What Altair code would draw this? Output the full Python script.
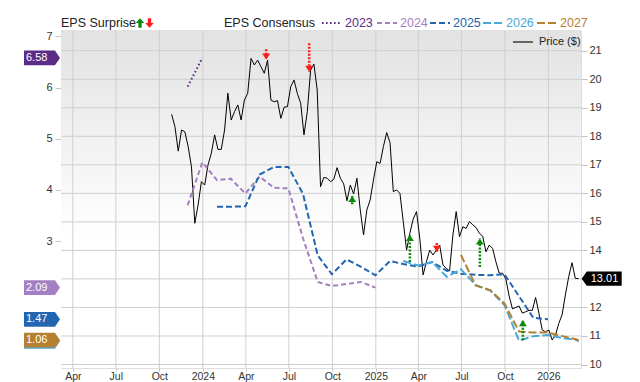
import altair as alt
import pandas as pd

# ---------------- data ----------------
# weekly closing price ($)
price_start = "2023-10-27"
price_values = [18.77, 18.34, 17.48, 18.22, 18.16, 17.64, 16.93, 14.95, 15.59, 16.41,
                16.29, 17.0, 17.4, 18.05, 17.54, 17.54, 18.22, 19.51, 18.57, 18.86,
                19.1, 18.57, 19.27, 19.51, 20.73, 20.5, 20.67, 20.44, 20.21, 20.67,
                19.27, 19.21, 19.25, 18.63, 19.02, 19.04, 19.74, 19.97, 19.5, 19.16,
                18.05, 18.86, 20.32, 20.53, 19.62, 16.23, 16.56, 16.53, 16.41, 16.49,
                16.9, 16.53, 16.33, 15.74, 16.29, 15.98, 16.53, 15.42, 14.54, 15.42,
                15.77, 16.47, 17.11, 17.05, 17.64, 18.13, 17.78, 16.06, 16.12, 16.0,
                15.01, 14.01, 14.6, 15.1, 15.36, 14.42, 13.14, 13.6, 14.01, 13.84,
                14.01, 14.19, 13.49, 13.37, 13.28, 14.54, 15.36, 14.48, 14.83, 14.77,
                15.01, 14.9, 14.8, 14.6, 14.5, 13.95, 14.19, 14.07, 13.6, 13.2,
                13.2, 13.0, 12.4, 11.95, 12.0, 12.05, 11.8, 11.85, 11.9, 11.9,
                12.35, 11.8, 11.21, 11.15, 11.21, 10.86, 11.03, 11.44, 11.74, 12.44,
                13.08, 13.57, 13.02, 13.01]
price_last_label = "13.01"

last_date = "2026-03-06"
# EPS consensus by fiscal year (month-end values)
years = ["2023", "2024", "2025", "2026", "2027"]
eps_2023_first, eps_2023_lastmonth = "2023-11-30", "2023-12-31"
eps_2023 = [6.02, 6.58]
eps_2024_first, eps_2024_lastmonth = "2023-11-30", "2024-12-31"
eps_2024 = [3.70, 4.54, 4.19, 4.22, 3.93, 4.26, 4.04, 4.03, 3.05, 2.20, 2.12, 2.16, 2.20, 2.09]
eps_2025_first, eps_2025_lastmonth = "2024-01-31", "2025-12-31"
eps_2025 = [3.67, 3.67, 3.68, 4.30, 4.45, 4.45, 3.92, 2.72, 2.35, 2.64, 2.50, 2.33,
            2.61, 2.55, 2.50, 2.59, 2.42, 2.36, 2.34, 2.33, 2.35, 1.92, 1.50, 1.47]
eps_2026_first, eps_2026_lastmonth = "2025-02-28", "2026-02-28"
eps_2026 = [2.61, 2.52, 2.59, 2.30, 2.45, 2.14, 2.03, 1.75, 1.05, 1.14, 1.16, 1.10, 1.07]
eps_2026_final = 1.04
eps_2027_first, eps_2027_lastmonth = "2025-06-30", "2026-02-28"
eps_2027 = [2.73, 2.13, 2.04, 1.78, 1.23, 1.21, 1.21, 1.14, 1.08]
eps_2027_final = 1.06

# EPS surprises (from consensus to actual)
surprise_dates = ["2024-05-14", "2024-08-13", "2024-11-12", "2025-03-14",
                  "2025-05-10", "2025-08-09", "2025-11-08"]
surprise_from = [6.75, 6.87, 3.72, 2.59, 2.96, 2.49, 1.06]
surprise_to = [6.55, 6.31, 3.88, 3.12, 2.79, 3.05, 1.45]

# last-value badges (the 2026 badge sits just under the 2027 one)
badge_values = [6.58, 2.09, 1.47, 1.04, 1.06]
badge_labels = ["6.58", "2.09", "1.47", "", "1.06"]
badge_series = ["2023", "2024", "2025", "2026", "2027"]

price_ticks = list(range(10, 22))
eps_ticks = [3, 4, 5, 6, 7]
tick_months = [(2023, 4), (2023, 7), (2023, 10), (2024, 1), (2024, 4), (2024, 7),
               (2024, 10), (2025, 1), (2025, 4), (2025, 7), (2025, 10), (2026, 1)]

# ---------------- styling ----------------
colors = ["#5b2c86", "#a47fc2", "#2265b0", "#4aa8da", "#b58030"]
dashes = [[1.6, 2.4], [5, 3], [6, 3], [8, 3], [8, 3]]
GREEN, RED = "#0b8a0b", "#ff1a1a"
W, H = 520, 338
L_DOM = [0.517, 7.127]
R_DOM = [9.878, 21.726]
FONT = "Liberation Sans"

# ---------------- tables ----------------
price_df = pd.DataFrame({"date": pd.date_range(price_start, periods=len(price_values), freq="7D"),
                         "price": price_values})


def month_ends(a, b):
    return list(pd.date_range(a, b, freq=pd.offsets.MonthEnd()))


rows = []
series_specs = [
    ("2023", month_ends(eps_2023_first, eps_2023_lastmonth), eps_2023),
    ("2024", month_ends(eps_2024_first, eps_2024_lastmonth), eps_2024),
    ("2025", month_ends(eps_2025_first, eps_2025_lastmonth), eps_2025),
    ("2026", month_ends(eps_2026_first, eps_2026_lastmonth) + [pd.Timestamp(last_date)],
     eps_2026 + [eps_2026_final]),
    ("2027", month_ends(eps_2027_first, eps_2027_lastmonth) + [pd.Timestamp(last_date)],
     eps_2027 + [eps_2027_final]),
]
for name, ds, vs in series_specs:
    assert len(ds) == len(vs), name
    for d, v in zip(ds, vs):
        rows.append({"date": d, "eps": v, "series": name})
eps_df = pd.DataFrame(rows)

sur_df = pd.DataFrame({"date": pd.to_datetime(surprise_dates), "frm": surprise_from,
                       "to": surprise_to})
sur_df["dir"] = ["up" if t > f else "down" for f, t in zip(surprise_from, surprise_to)]
sur_df["col"] = [GREEN if d == "up" else RED for d in sur_df["dir"]]

badge_df = pd.DataFrame({"value": badge_values, "label": badge_labels,
                         "color": [colors[years.index(s)] for s in badge_series]})
last_df = pd.DataFrame({"price": [price_values[-1]], "label": [price_last_label]})
grid_df = pd.DataFrame({"v": price_ticks})
vgrid_df = pd.DataFrame({"d": [pd.Timestamp(year=y, month=m, day=1) for y, m in tick_months]})
one = pd.DataFrame({"k": [0]})

# ---------------- encodings ----------------
x_axis = alt.Axis(values=[alt.DateTime(year=y, month=m, date=1) for y, m in tick_months],
                  labelExpr="month(datum.value) == 0 ? timeFormat(datum.value, '%Y') : timeFormat(datum.value, '%b')",
                  title=None, grid=False, domain=False, ticks=True, tickColor="#c4c4c4",
                  tickSize=3, labelColor="#333333", labelFontSize=10.5, labelPadding=0,
                  labelBaseline="top")
x_scale = alt.Scale(domain=[alt.DateTime(year=2023, month=3, date=7),
                            alt.DateTime(year=2026, month=3, date=11)])


def X(field):
    return alt.X(f"{field}:T", scale=x_scale, axis=x_axis)


left_axis = alt.Axis(orient="left", values=eps_ticks, grid=False, domain=False,
                     tickColor="#c4c4c4", tickSize=6, labelColor="#333333",
                     labelFontSize=11, labelPadding=3, title=None)
right_axis = alt.Axis(orient="right", values=price_ticks, grid=False, domain=False,
                      tickColor="#c4c4c4", tickSize=6, labelColor="#333333",
                      labelFontSize=11, labelPadding=2, title=None,
                      labelExpr="datum.value == 13 ? '' : datum.label")


def YL(field):
    return alt.Y(f"{field}:Q", scale=alt.Scale(domain=L_DOM, nice=False, zero=False), axis=left_axis)


def YR(field):
    return alt.Y(f"{field}:Q", scale=alt.Scale(domain=R_DOM, nice=False, zero=False), axis=right_axis)


# ---------------- right (price) group ----------------
bg = alt.Chart(one).mark_rect(
    fill=alt.LinearGradient(gradient="linear", x1=0, x2=0, y1=0, y2=1,
                            stops=[alt.GradientStop(color="#e2e2e2", offset=0),
                                   alt.GradientStop(color="#ffffff", offset=0.62)])
).encode(x=alt.value(0), x2=alt.value(W), y=alt.value(0), y2=alt.value(H))

vgrid = alt.Chart(vgrid_df).mark_rule(color="#cfcfcf", strokeWidth=1).encode(
    x=X("d"), y=alt.value(0), y2=alt.value(H))
hgrid = alt.Chart(grid_df).mark_rule(color="#cfcfcf", strokeWidth=1).encode(
    y=YR("v"), x=alt.value(0), x2=alt.value(W))

price_line = alt.Chart(price_df).mark_line(color="#000000", strokeWidth=1).encode(
    x=X("date"), y=YR("price"))

RBADGE = "M-1,0 L-0.75,-0.36 L1,-0.36 L1,0.36 L-0.75,0.36 Z"
price_badge = alt.Chart(last_df).mark_point(shape=RBADGE, size=1600, filled=True, opacity=1,
                                            color="#000000", strokeWidth=0).encode(
    x=alt.value(540.7), y=YR("price"))
price_badge_txt = alt.Chart(last_df).mark_text(color="#ffffff", fontSize=11, align="center",
                                               baseline="middle").encode(
    x=alt.value(543.5), y=YR("price"), text="label:N")

price_leg_line = alt.Chart(one).mark_rule(color="#666666", strokeWidth=2).encode(
    x=alt.value(452), x2=alt.value(472), y=alt.value(12))
price_leg_txt = alt.Chart(one).mark_text(text="Price ($)", fontSize=11, color="#222222",
                                         align="left", baseline="middle").encode(
    x=alt.value(478), y=alt.value(12))

right_group = alt.layer(bg, vgrid, hgrid, price_line, price_badge, price_badge_txt,
                        price_leg_line, price_leg_txt)

# ---------------- left (EPS) group ----------------
eps_lines = alt.Chart(eps_df).mark_line(strokeWidth=2).encode(
    x=X("date"), y=YL("eps"),
    color=alt.Color("series:N", scale=alt.Scale(domain=years, range=colors), legend=None),
    strokeDash=alt.StrokeDash("series:N", scale=alt.Scale(domain=years, range=dashes), legend=None),
    detail="series:N")

UP_HEAD = "M0,0 L1,1.5 L-1,1.5 Z"
DOWN_HEAD = "M0,0 L1,-1.5 L-1,-1.5 Z"
stems = alt.Chart(sur_df).mark_rule(strokeWidth=2.5, strokeDash=[2, 1.5]).encode(
    x=X("date"), y=YL("frm"), y2=alt.Y2("to:Q"), color=alt.Color("col:N", scale=None))
heads = alt.Chart(sur_df).mark_point(filled=True, opacity=1, size=64, strokeWidth=0).encode(
    x=X("date"), y=YL("to"), color=alt.Color("col:N", scale=None),
    shape=alt.Shape("dir:N", scale=alt.Scale(domain=["up", "down"], range=[UP_HEAD, DOWN_HEAD]),
                    legend=None))

LBADGE = "M-1,-0.41 L0.72,-0.41 L1,0 L0.72,0.41 L-1,0.41 Z"
badges = alt.Chart(badge_df).mark_point(shape=LBADGE, size=1296, filled=True, opacity=1,
                                        strokeWidth=0).encode(
    x=alt.value(-19), y=YL("value"), color=alt.Color("color:N", scale=None))
badge_txt = alt.Chart(badge_df).mark_text(color="#ffffff", fontSize=11, align="left",
                                          baseline="middle").encode(
    x=alt.value(-35), y=YL("value"), text="label:N")

# top legend
LEG_Y = -7
ARROW_UP = "M0,-1 L0.9,0 L0.35,0 L0.35,1 L-0.35,1 L-0.35,0 L-0.9,0 Z"
ARROW_DOWN = "M0,1 L0.9,0 L0.35,0 L0.35,-1 L-0.35,-1 L-0.35,0 L-0.9,0 Z"
legend_layers = [
    alt.Chart(one).mark_text(text="EPS Surprise", fontSize=12.5, color="#222222", align="left",
                             baseline="middle").encode(x=alt.value(0), y=alt.value(LEG_Y)),
    alt.Chart(one).mark_point(shape=ARROW_UP, size=90, filled=True, opacity=1, color=GREEN,
                              strokeWidth=0).encode(x=alt.value(79), y=alt.value(LEG_Y)),
    alt.Chart(one).mark_point(shape=ARROW_DOWN, size=90, filled=True, opacity=1, color=RED,
                              strokeWidth=0).encode(x=alt.value(88.5), y=alt.value(LEG_Y)),
    alt.Chart(one).mark_text(text="EPS Consensus", fontSize=12.5, color="#222222", align="left",
                             baseline="middle").encode(x=alt.value(163), y=alt.value(LEG_Y)),
]
leg_start = [261, 316, 369, 422, 476]
for i, yr in enumerate(years):
    x0 = leg_start[i]
    legend_layers.append(
        alt.Chart(one).mark_rule(color=colors[i], strokeWidth=2, strokeDash=dashes[i]).encode(
            x=alt.value(x0), x2=alt.value(x0 + 20), y=alt.value(LEG_Y)))
    legend_layers.append(
        alt.Chart(one).mark_text(text=yr, fontSize=12.5, color=colors[i], align="left",
                                 baseline="middle").encode(x=alt.value(x0 + 23), y=alt.value(LEG_Y)))

left_group = alt.layer(eps_lines, stems, heads, badges, badge_txt, *legend_layers)

chart = alt.layer(right_group, left_group).resolve_scale(y="independent").properties(
    width=W, height=H,
    autosize=alt.AutoSizeParams(type="none"),
    padding={"left": 61, "top": 30, "right": 59, "bottom": 14},
).configure_view(stroke="#c4c4c4", strokeWidth=1).configure(font=FONT)

chart.save("out.html", embed_options={"renderer": "svg", "actions": False})
